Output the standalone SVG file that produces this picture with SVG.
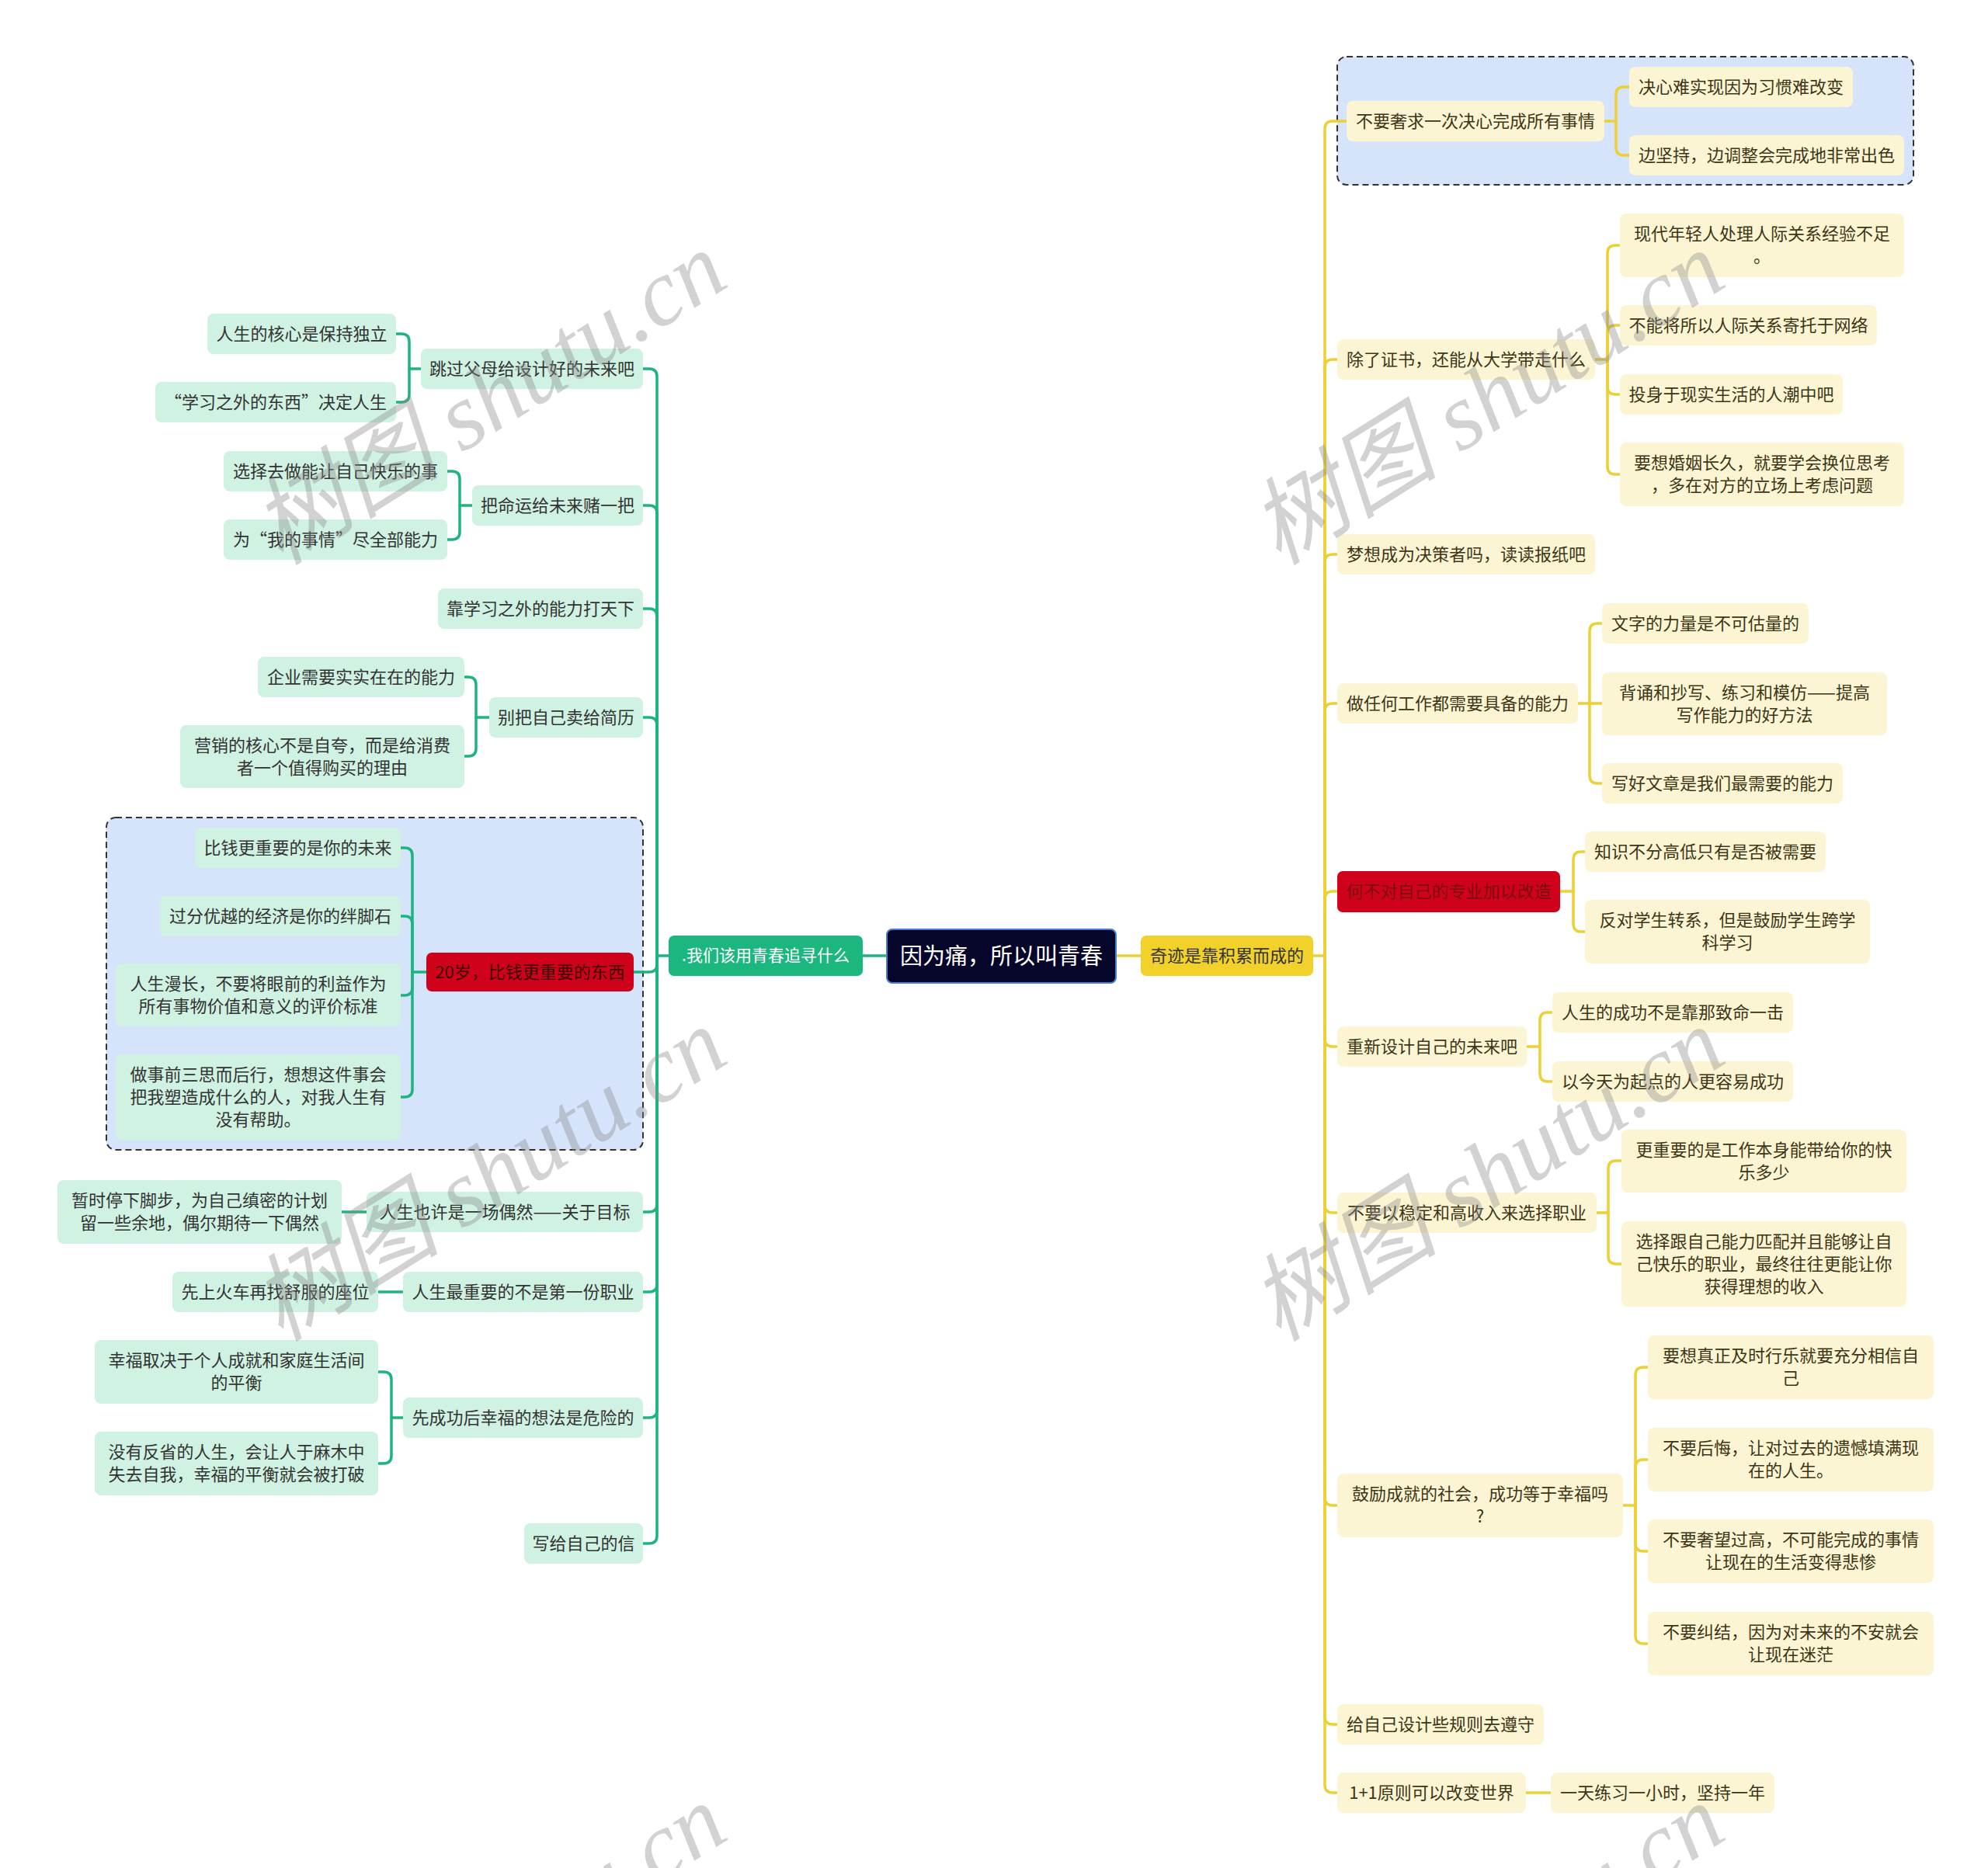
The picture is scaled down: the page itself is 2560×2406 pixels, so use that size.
<svg xmlns="http://www.w3.org/2000/svg" width="2560" height="2406" viewBox="0 0 2560 2406">
<style>
text{font-family:"Noto Sans CJK SC","Noto Sans",sans-serif;font-size:22px;text-anchor:middle}
.g rect{fill:#cff2e2}
.g text{fill:#333}
.y rect{fill:#fcf5d3}
.y text{fill:#3d3516}
.cg{fill:none;stroke:#1db57e;stroke-width:3.5;stroke-linecap:round;stroke-linejoin:round}
.cy{fill:none;stroke:#ecd034;stroke-width:3.5;stroke-linecap:round;stroke-linejoin:round}
.box{fill:#d6e4fb;stroke:#333;stroke-width:2;stroke-dasharray:8 5}
.wm{font-family:"Liberation Serif","Noto Sans CJK SC",serif;font-style:italic;font-size:122px;fill:#8a8a8a;opacity:0.38}
</style>
<rect width="2560" height="2406" fill="#fff"/>
<g id="groups">
<rect class="box" x="137" y="1053" width="691" height="428" rx="12"/>
<rect class="box" x="1722" y="73" width="742" height="165" rx="12"/>
</g>
<g id="connectors">
<path class="cg" d="M1142 1231 H1111"/>
<path class="cy" d="M1437 1231 H1469"/>
<path class="cg" d="M861 1231 H846 V485 Q846 475 836 475 H828"/>
<path class="cg" d="M846 1231 V661 Q846 651 836 651 H828"/>
<path class="cg" d="M846 1231 V794 Q846 784 836 784 H828"/>
<path class="cg" d="M846 1231 V934 Q846 924 836 924 H828"/>
<path class="cg" d="M846 1231 V1242 Q846 1252 836 1252 H816"/>
<path class="cg" d="M846 1231 V1551 Q846 1561 836 1561 H828"/>
<path class="cg" d="M846 1231 V1654 Q846 1664 836 1664 H828"/>
<path class="cg" d="M846 1231 V1816 Q846 1826 836 1826 H828"/>
<path class="cg" d="M846 1231 V1978 Q846 1988 836 1988 H828"/>
<path class="cg" d="M542 475 H527 V440 Q527 430 517 430 H510"/>
<path class="cg" d="M527 475 V508 Q527 518 517 518 H510"/>
<path class="cg" d="M608 651 H592 V617 Q592 607 582 607 H576"/>
<path class="cg" d="M592 651 V685 Q592 695 582 695 H576"/>
<path class="cg" d="M630 924 H613 V882 Q613 872 603 872 H598"/>
<path class="cg" d="M613 924 V964 Q613 974 603 974 H598"/>
<path class="cg" d="M549 1252 H531 V1102 Q531 1092 521 1092 H516"/>
<path class="cg" d="M531 1252 V1190 Q531 1180 521 1180 H516"/>
<path class="cg" d="M531 1252 V1272 Q531 1282 521 1282 H516"/>
<path class="cg" d="M531 1252 V1403 Q531 1413 521 1413 H516"/>
<path class="cg" d="M472 1561 H440"/>
<path class="cg" d="M519 1664 H487"/>
<path class="cg" d="M519 1826 H504 V1777 Q504 1767 494 1767 H487"/>
<path class="cg" d="M504 1826 V1875 Q504 1885 494 1885 H487"/>
<path class="cy" d="M1691 1231 H1706 V166 Q1706 156 1716 156 H1734"/>
<path class="cy" d="M1706 1231 V473 Q1706 463 1716 463 H1722"/>
<path class="cy" d="M1706 1231 V724 Q1706 714 1716 714 H1722"/>
<path class="cy" d="M1706 1231 V916 Q1706 906 1716 906 H1722"/>
<path class="cy" d="M1706 1231 V1158 Q1706 1148 1716 1148 H1722"/>
<path class="cy" d="M1706 1231 V1338 Q1706 1348 1716 1348 H1722"/>
<path class="cy" d="M1706 1231 V1552 Q1706 1562 1716 1562 H1722"/>
<path class="cy" d="M1706 1231 V1929 Q1706 1939 1716 1939 H1722"/>
<path class="cy" d="M1706 1231 V2211 Q1706 2221 1716 2221 H1722"/>
<path class="cy" d="M1706 1231 V2299 Q1706 2309 1716 2309 H1722"/>
<path class="cy" d="M2066 156 H2081 V122 Q2081 112 2091 112 H2098"/>
<path class="cy" d="M2081 156 V190 Q2081 200 2091 200 H2098"/>
<path class="cy" d="M2054 463 H2070 V326 Q2070 316 2080 316 H2086"/>
<path class="cy" d="M2070 463 V429 Q2070 419 2080 419 H2086"/>
<path class="cy" d="M2070 463 V498 Q2070 508 2080 508 H2086"/>
<path class="cy" d="M2070 463 V601 Q2070 611 2080 611 H2086"/>
<path class="cy" d="M2032 906 H2063"/>
<path class="cy" d="M2047 906 V813 Q2047 803 2057 803 H2063"/>
<path class="cy" d="M2047 906 V999 Q2047 1009 2057 1009 H2063"/>
<path class="cy" d="M2009 1148 H2026 V1107 Q2026 1097 2036 1097 H2041"/>
<path class="cy" d="M2026 1148 V1190 Q2026 1200 2036 1200 H2041"/>
<path class="cy" d="M1966 1348 H1983 V1314 Q1983 1304 1993 1304 H1999"/>
<path class="cy" d="M1983 1348 V1383 Q1983 1393 1993 1393 H1999"/>
<path class="cy" d="M2056 1562 H2071 V1505 Q2071 1495 2081 1495 H2088"/>
<path class="cy" d="M2071 1562 V1618 Q2071 1628 2081 1628 H2088"/>
<path class="cy" d="M2090 1939 H2106 V1771 Q2106 1761 2116 1761 H2122"/>
<path class="cy" d="M2106 1939 V1890 Q2106 1880 2116 1880 H2122"/>
<path class="cy" d="M2106 1939 V1988 Q2106 1998 2116 1998 H2122"/>
<path class="cy" d="M2106 1939 V2107 Q2106 2117 2116 2117 H2122"/>
<path class="cy" d="M1965 2309 H1997"/>
</g>
<g id="root"><rect x="1142" y="1197" width="295" height="69" rx="7" fill="#06062a" stroke="#4a7bd5" stroke-width="2"/><text x="1289.5" y="1242" style="font-size:29px;fill:#fff">因为痛，所以叫青春</text></g>
<g id="main-left"><rect x="861" y="1205" width="250" height="52" rx="7" fill="#1cb77f"/><text x="986" y="1238" style="font-size:21px;fill:#fff">.我们该用青春追寻什么</text></g>
<g id="main-right"><rect x="1469" y="1205" width="222" height="52" rx="7" fill="#f2d12b"/><text x="1580" y="1239" style="fill:#333">奇迹是靠积累而成的</text></g>

<g id="L1" class="g"><rect x="542" y="449" width="286" height="52" rx="8"/><text x="685" y="483">跳过父母给设计好的未来吧</text></g>
<g id="L1a" class="g"><rect x="267" y="404" width="243" height="52" rx="8"/><text x="388.5" y="438">人生的核心是保持独立</text></g>
<g id="L1b" class="g"><rect x="200" y="492" width="310" height="52" rx="8"/><text x="355" y="526">“学习之外的东西”决定人生</text></g>
<g id="L2" class="g"><rect x="608" y="625" width="220" height="52" rx="8"/><text x="718" y="659">把命运给未来赌一把</text></g>
<g id="L2a" class="g"><rect x="288" y="581" width="288" height="52" rx="8"/><text x="432" y="615">选择去做能让自己快乐的事</text></g>
<g id="L2b" class="g"><rect x="288" y="669" width="288" height="52" rx="8"/><text x="432" y="703">为“我的事情”尽全部能力</text></g>
<g id="L3" class="g"><rect x="564" y="758" width="264" height="52" rx="8"/><text x="696" y="792">靠学习之外的能力打天下</text></g>
<g id="L4" class="g"><rect x="630" y="898" width="198" height="52" rx="8"/><text x="729" y="932">别把自己卖给简历</text></g>
<g id="L4a" class="g"><rect x="332" y="846" width="266" height="52" rx="8"/><text x="465" y="880">企业需要实实在在的能力</text></g>
<g id="L4b" class="g"><rect x="232" y="934" width="366" height="81" rx="8"/><text x="415" y="968">营销的核心不是自夸，而是给消费</text><text x="415" y="997">者一个值得购买的理由</text></g>
<g id="L5"><rect x="549" y="1227" width="267" height="50" rx="7" fill="#d0021b"/><text x="682.5" y="1260" style="fill:#3d0505">20岁，比钱更重要的东西</text></g>
<g id="L5a" class="g"><rect x="251" y="1066" width="265" height="52" rx="8"/><text x="383.5" y="1100">比钱更重要的是你的未来</text></g>
<g id="L5b" class="g"><rect x="206" y="1154" width="310" height="52" rx="8"/><text x="361" y="1188">过分优越的经济是你的绊脚石</text></g>
<g id="L5c" class="g"><rect x="149" y="1241" width="367" height="81" rx="8"/><text x="332.5" y="1275">人生漫长，不要将眼前的利益作为</text><text x="332.5" y="1304">所有事物价值和意义的评价标准</text></g>
<g id="L5d" class="g"><rect x="149" y="1358" width="367" height="111" rx="8"/><text x="332.5" y="1392">做事前三思而后行，想想这件事会</text><text x="332.5" y="1421">把我塑造成什么的人，对我人生有</text><text x="332.5" y="1450">没有帮助。</text></g>
<g id="L6" class="g"><rect x="472" y="1535" width="356" height="52" rx="8"/><text x="650" y="1569">人生也许是一场偶然——关于目标</text></g>
<g id="L6a" class="g"><rect x="74" y="1520" width="366" height="82" rx="8"/><text x="257" y="1554">暂时停下脚步，为自己缜密的计划</text><text x="257" y="1583">留一些余地，偶尔期待一下偶然</text></g>
<g id="L7" class="g"><rect x="519" y="1638" width="309" height="52" rx="8"/><text x="673.5" y="1672">人生最重要的不是第一份职业</text></g>
<g id="L7a" class="g"><rect x="222" y="1638" width="265" height="52" rx="8"/><text x="354.5" y="1672">先上火车再找舒服的座位</text></g>
<g id="L8" class="g"><rect x="519" y="1800" width="309" height="52" rx="8"/><text x="673.5" y="1834">先成功后幸福的想法是危险的</text></g>
<g id="L8a" class="g"><rect x="122" y="1726" width="365" height="82" rx="8"/><text x="304.5" y="1760">幸福取决于个人成就和家庭生活间</text><text x="304.5" y="1789">的平衡</text></g>
<g id="L8b" class="g"><rect x="122" y="1844" width="365" height="82" rx="8"/><text x="304.5" y="1878">没有反省的人生，会让人于麻木中</text><text x="304.5" y="1907">失去自我，幸福的平衡就会被打破</text></g>
<g id="L9" class="g"><rect x="675" y="1962" width="153" height="52" rx="8"/><text x="751.5" y="1996">写给自己的信</text></g>

<g id="R1" class="y"><rect x="1734" y="130" width="332" height="52" rx="8"/><text x="1900" y="164">不要奢求一次决心完成所有事情</text></g>
<g id="R1a" class="y"><rect x="2098" y="86" width="288" height="52" rx="8"/><text x="2242" y="120">决心难实现因为习惯难改变</text></g>
<g id="R1b" class="y"><rect x="2098" y="174" width="354" height="52" rx="8"/><text x="2275" y="208">边坚持，边调整会完成地非常出色</text></g>
<g id="R2" class="y"><rect x="1722" y="437" width="332" height="52" rx="8"/><text x="1888" y="471">除了证书，还能从大学带走什么</text></g>
<g id="R2a" class="y"><rect x="2086" y="275" width="366" height="82" rx="8"/><text x="2269" y="309">现代年轻人处理人际关系经验不足</text><text x="2269" y="338">。</text></g>
<g id="R2b" class="y"><rect x="2086" y="393" width="331" height="52" rx="8"/><text x="2251.5" y="427">不能将所以人际关系寄托于网络</text></g>
<g id="R2c" class="y"><rect x="2086" y="482" width="287" height="52" rx="8"/><text x="2229.5" y="516">投身于现实生活的人潮中吧</text></g>
<g id="R2d" class="y"><rect x="2086" y="570" width="366" height="82" rx="8"/><text x="2269" y="604">要想婚姻长久，就要学会换位思考</text><text x="2269" y="633">，多在对方的立场上考虑问题</text></g>
<g id="R3" class="y"><rect x="1722" y="688" width="332" height="52" rx="8"/><text x="1888" y="722">梦想成为决策者吗，读读报纸吧</text></g>
<g id="R4" class="y"><rect x="1722" y="880" width="310" height="52" rx="8"/><text x="1877" y="914">做任何工作都需要具备的能力</text></g>
<g id="R4a" class="y"><rect x="2063" y="777" width="266" height="52" rx="8"/><text x="2196" y="811">文字的力量是不可估量的</text></g>
<g id="R4b" class="y"><rect x="2063" y="866" width="367" height="81" rx="8"/><text x="2246.5" y="900">背诵和抄写、练习和模仿——提高</text><text x="2246.5" y="929">写作能力的好方法</text></g>
<g id="R4c" class="y"><rect x="2063" y="983" width="310" height="52" rx="8"/><text x="2218" y="1017">写好文章是我们最需要的能力</text></g>
<g id="R5"><rect x="1722" y="1122" width="287" height="53" rx="7" fill="#d0021b"/><text x="1865.5" y="1156" style="fill:#7d0c10">何不对自己的专业加以改造</text></g>
<g id="R5a" class="y"><rect x="2041" y="1071" width="310" height="52" rx="8"/><text x="2196" y="1105">知识不分高低只有是否被需要</text></g>
<g id="R5b" class="y"><rect x="2041" y="1159" width="367" height="82" rx="8"/><text x="2224.5" y="1193">反对学生转系，但是鼓励学生跨学</text><text x="2224.5" y="1222">科学习</text></g>
<g id="R6" class="y"><rect x="1722" y="1322" width="244" height="52" rx="8"/><text x="1844" y="1356">重新设计自己的未来吧</text></g>
<g id="R6a" class="y"><rect x="1999" y="1278" width="310" height="52" rx="8"/><text x="2154" y="1312">人生的成功不是靠那致命一击</text></g>
<g id="R6b" class="y"><rect x="1999" y="1367" width="310" height="52" rx="8"/><text x="2154" y="1401">以今天为起点的人更容易成功</text></g>
<g id="R7" class="y"><rect x="1722" y="1536" width="334" height="52" rx="8"/><text x="1889" y="1570">不要以稳定和高收入来选择职业</text></g>
<g id="R7a" class="y"><rect x="2088" y="1455" width="367" height="81" rx="8"/><text x="2271.5" y="1489">更重要的是工作本身能带给你的快</text><text x="2271.5" y="1518">乐多少</text></g>
<g id="R7b" class="y"><rect x="2088" y="1573" width="367" height="110" rx="8"/><text x="2271.5" y="1607">选择跟自己能力匹配并且能够让自</text><text x="2271.5" y="1636">己快乐的职业，最终往往更能让你</text><text x="2271.5" y="1665">获得理想的收入</text></g>
<g id="R8" class="y"><rect x="1722" y="1898" width="368" height="82" rx="8"/><text x="1906" y="1932">鼓励成就的社会，成功等于幸福吗</text><text x="1906" y="1961">?</text></g>
<g id="R8a" class="y"><rect x="2122" y="1720" width="368" height="82" rx="8"/><text x="2306" y="1754">要想真正及时行乐就要充分相信自</text><text x="2306" y="1783">己</text></g>
<g id="R8b" class="y"><rect x="2122" y="1839" width="368" height="82" rx="8"/><text x="2306" y="1873">不要后悔，让对过去的遗憾填满现</text><text x="2306" y="1902">在的人生。</text></g>
<g id="R8c" class="y"><rect x="2122" y="1957" width="368" height="82" rx="8"/><text x="2306" y="1991">不要奢望过高，不可能完成的事情</text><text x="2306" y="2020">让现在的生活变得悲惨</text></g>
<g id="R8d" class="y"><rect x="2122" y="2076" width="368" height="82" rx="8"/><text x="2306" y="2110">不要纠结，因为对未来的不安就会</text><text x="2306" y="2139">让现在迷茫</text></g>
<g id="R9" class="y"><rect x="1722" y="2195" width="266" height="52" rx="8"/><text x="1855" y="2229">给自己设计些规则去遵守</text></g>
<g id="R10" class="y"><rect x="1722" y="2283" width="243" height="52" rx="8"/><text x="1843.5" y="2317">1+1原则可以改变世界</text></g>
<g id="R10a" class="y"><rect x="1997" y="2283" width="288" height="52" rx="8"/><text x="2141" y="2317">一天练习一小时，坚持一年</text></g>

<g id="watermarks">
<text class="wm" transform="translate(652 548) rotate(-32)">树图 shutu.cn</text>
<text class="wm" transform="translate(1937 548) rotate(-32)">树图 shutu.cn</text>
<text class="wm" transform="translate(652 1548) rotate(-32)">树图 shutu.cn</text>
<text class="wm" transform="translate(1937 1548) rotate(-32)">树图 shutu.cn</text>
<text class="wm" transform="translate(652 2548) rotate(-32)">树图 shutu.cn</text>
<text class="wm" transform="translate(1937 2548) rotate(-32)">树图 shutu.cn</text>
</g>
</svg>
